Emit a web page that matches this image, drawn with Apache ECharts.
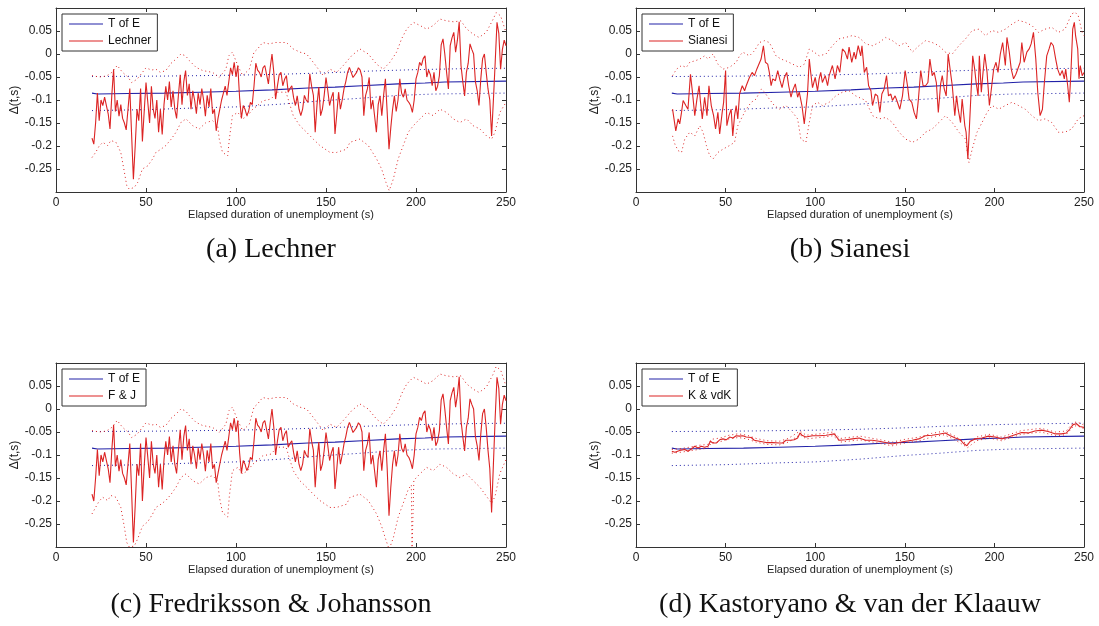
<!DOCTYPE html>
<html>
<head>
<meta charset="utf-8">
<title>Delta(t,s) by elapsed duration</title>
<script src="https://cdn.jsdelivr.net/npm/echarts@6/dist/echarts.min.js"></script>
<style>
  html, body { margin: 0; padding: 0; background: #fff; }
  #chart { width: 1099px; height: 626px; }
</style>
</head>
<body>
<div id="chart"></div>
<script>
// T of E estimate and its band (same in all four panels)
const tofe = [[20,-0.085],[23,-0.087],[40,-0.086],[60,-0.085],[80,-0.083],[100,-0.081],[120,-0.078],[140,-0.074],[155,-0.072],[170,-0.069],[190,-0.065],[205,-0.063],[216,-0.061],[217,-0.059],[250,-0.059]];
const tofeUp = [[20,-0.049],[60,-0.048],[100,-0.046],[125,-0.044],[150,-0.041],[175,-0.037],[200,-0.034],[225,-0.032],[250,-0.031]];
const tofeLow = [[20,-0.123],[50,-0.121],[80,-0.117],[100,-0.115],[125,-0.109],[150,-0.101],[170,-0.096],[190,-0.09],[210,-0.087],[250,-0.085]];

// (a) Lechner
const lechner = [[20,-0.183],[21,-0.196],[22,-0.15],[23,-0.085],[24,-0.145],[25,-0.1],[26,-0.112],[27,-0.094],[28,-0.112],[29,-0.13],[30,-0.163],[31,-0.09],[32,-0.033],[33,-0.125],[34,-0.1],[35,-0.135],[36,-0.11],[37,-0.14],[38,-0.15],[39,-0.165],[40,-0.12],[41,-0.075],[42,-0.175],[43,-0.272],[44,-0.2],[45,-0.12],[46,-0.145],[47,-0.075],[48,-0.19],[49,-0.125],[50,-0.062],[51,-0.105],[52,-0.15],[53,-0.07],[54,-0.12],[55,-0.14],[56,-0.1],[57,-0.17],[58,-0.12],[59,-0.175],[60,-0.11],[61,-0.07],[62,-0.1],[63,-0.06],[64,-0.115],[65,-0.08],[66,-0.12],[67,-0.14],[68,-0.09],[69,-0.045],[70,-0.11],[71,-0.06],[72,-0.036],[73,-0.09],[74,-0.065],[75,-0.12],[76,-0.08],[77,-0.1],[78,-0.13],[79,-0.085],[80,-0.11],[81,-0.075],[82,-0.1],[83,-0.135],[84,-0.09],[85,-0.115],[86,-0.075],[87,-0.13],[88,-0.12],[89,-0.167],[90,-0.14],[91,-0.12],[92,-0.1],[93,-0.085],[94,-0.07],[95,-0.09],[96,-0.06],[97,-0.03],[98,-0.045],[99,-0.018],[100,-0.05],[101,-0.025],[102,-0.095],[103,-0.14],[104,-0.112],[105,-0.12],[106,-0.134],[107,-0.125],[108,-0.105],[109,-0.11],[110,-0.07],[111,-0.02],[112,-0.035],[113,-0.04],[114,-0.05],[115,-0.03],[116,-0.025],[117,-0.045],[118,-0.065],[119,-0.03],[120,0.0],[121,-0.04],[122,-0.098],[123,-0.07],[124,-0.045],[125,-0.04],[126,-0.069],[127,-0.055],[128,-0.047],[129,-0.083],[130,-0.075],[131,-0.069],[132,-0.095],[133,-0.112],[134,-0.091],[135,-0.12],[136,-0.134],[137,-0.12],[138,-0.09],[139,-0.1],[140,-0.105],[141,-0.043],[142,-0.07],[143,-0.09],[144,-0.17],[145,-0.11],[146,-0.072],[147,-0.134],[148,-0.12],[149,-0.09],[150,-0.051],[151,-0.08],[152,-0.112],[153,-0.095],[154,-0.083],[155,-0.174],[156,-0.13],[157,-0.083],[158,-0.12],[159,-0.1],[160,-0.076],[161,-0.06],[162,-0.04],[163,-0.029],[164,-0.04],[165,-0.051],[166,-0.048],[167,-0.04],[168,-0.03],[169,-0.035],[170,-0.05],[171,-0.134],[172,-0.09],[173,-0.076],[174,-0.051],[175,-0.12],[176,-0.1],[177,-0.098],[178,-0.17],[179,-0.11],[180,-0.091],[181,-0.134],[182,-0.09],[183,-0.054],[184,-0.127],[185,-0.207],[186,-0.16],[187,-0.12],[188,-0.091],[189,-0.125],[190,-0.1],[191,-0.054],[192,-0.085],[193,-0.094],[194,-0.076],[195,-0.1],[196,-0.105],[197,-0.112],[198,-0.127],[199,-0.1],[200,-0.054],[201,-0.04],[202,-0.018],[203,-0.025],[204,-0.01],[205,-0.004],[206,-0.05],[207,-0.035],[208,-0.045],[209,-0.069],[210,-0.04],[211,-0.08],[212,-0.07],[213,-0.047],[214,0.02],[215,0.033],[216,0.0],[217,-0.04],[218,-0.076],[219,0.018],[220,0.035],[221,0.047],[222,0.004],[223,0.03],[224,0.07],[225,-0.025],[226,-0.06],[227,-0.091],[228,-0.04],[229,-0.02],[230,0.022],[231,0.01],[232,0.0],[233,-0.06],[234,-0.08],[235,-0.112],[236,-0.054],[237,-0.01],[238,0.0],[239,-0.04],[240,-0.076],[241,-0.1],[242,-0.178],[243,-0.1],[244,-0.018],[245,0.069],[246,0.045],[247,-0.033],[248,0.01],[249,0.03],[250,0.018]];
const lechnerUp = [[20,-0.047],[24,-0.05],[28,-0.048],[31,-0.04],[34,-0.025],[37,-0.04],[40,-0.05],[42,-0.062],[45,-0.055],[48,-0.04],[50,-0.03],[53,-0.035],[55.5,-0.033],[58,-0.04],[61,-0.036],[64,-0.02],[66.7,-0.011],[69.4,0.0],[72,-0.004],[74,-0.014],[77.8,-0.029],[81.5,-0.036],[87,-0.04],[90.7,-0.051],[94.4,-0.033],[96,-0.004],[98,0.004],[101,-0.025],[103.7,-0.047],[107.4,-0.033],[110,0.004],[112,0.011],[114.8,0.025],[118.5,0.022],[122,0.025],[125,0.025],[128,0.025],[131.8,0.011],[135.5,0.004],[139.2,0.0],[142.9,-0.018],[148.5,-0.047],[152.2,-0.033],[155.9,-0.04],[159.6,-0.025],[164.2,-0.004],[168.8,0.011],[173.5,0.0],[178.1,-0.022],[181.8,-0.033],[185.5,-0.018],[189.2,0.004],[192,0.033],[194.8,0.054],[198.5,0.069],[202.2,0.062],[205.9,0.054],[209.6,0.062],[213.3,0.076],[217,0.072],[221,0.07],[225,0.072],[228,0.055],[231.8,0.043],[235,0.036],[239,0.047],[242.9,0.076],[244.5,0.09],[247,0.083],[250,0.047]];
const lechnerLow = [[20,-0.225],[22,-0.214],[24,-0.2],[26,-0.192],[28.7,-0.199],[30.5,-0.188],[33.3,-0.192],[36,-0.214],[38,-0.257],[39.3,-0.286],[40.7,-0.294],[43.5,-0.29],[45.4,-0.279],[48,-0.25],[51,-0.243],[53.7,-0.228],[55.5,-0.214],[58.3,-0.207],[61,-0.199],[64,-0.185],[66.7,-0.17],[69.4,-0.149],[72.2,-0.141],[76,-0.156],[79.6,-0.163],[83.3,-0.149],[87,-0.145],[89.8,-0.156],[90.7,-0.185],[92.5,-0.214],[95.4,-0.221],[96.3,-0.185],[98,-0.134],[101,-0.127],[103.7,-0.141],[106.5,-0.134],[109.3,-0.12],[112,-0.112],[114.8,-0.102],[119.4,-0.098],[123,-0.083],[127.8,-0.083],[131.8,-0.134],[135.5,-0.156],[139.2,-0.17],[142.9,-0.185],[146.6,-0.199],[152.2,-0.214],[155.9,-0.214],[161.4,-0.207],[163.3,-0.192],[168.8,-0.185],[173.5,-0.199],[178.1,-0.228],[180.9,-0.25],[183.3,-0.279],[185.1,-0.297],[187.4,-0.272],[190.1,-0.228],[192.9,-0.199],[195.7,-0.17],[198.5,-0.156],[202.2,-0.141],[205.9,-0.127],[209.6,-0.134],[213.3,-0.12],[217,-0.127],[220.7,-0.141],[224.4,-0.149],[228.1,-0.141],[231.8,-0.156],[235.5,-0.163],[239.2,-0.178],[242,-0.185],[243.9,-0.17],[246.6,-0.127],[250,-0.105]];

// (b) Sianesi
const sianesi = [[20.4,-0.12],[21.1,-0.121],[22.2,-0.167],[23.5,-0.141],[24.4,-0.152],[25.4,-0.127],[26.3,-0.101],[27.8,-0.112],[29,-0.12],[30.4,-0.044],[31.5,-0.083],[32.8,-0.134],[34,-0.098],[35.2,-0.069],[36,-0.105],[37,-0.141],[38.3,-0.094],[39.6,-0.134],[40.7,-0.069],[42,-0.112],[43.3,-0.134],[44.4,-0.163],[45.7,-0.127],[46.7,-0.174],[48.1,-0.127],[48.9,-0.105],[50,-0.036],[50.7,-0.156],[51.9,-0.134],[53.1,-0.12],[54,-0.178],[55,-0.134],[55.9,-0.112],[56.8,-0.141],[57.8,-0.087],[59.3,-0.069],[60.6,-0.08],[61.5,-0.069],[62.4,-0.073],[63.3,-0.051],[64.8,-0.04],[66.1,-0.047],[67.4,-0.033],[68.5,-0.036],[69.8,-0.011],[71.1,0.018],[72.2,-0.018],[73.5,-0.022],[74.4,-0.04],[75.4,-0.069],[76.3,-0.054],[77.8,-0.058],[79.1,-0.036],[80.4,-0.058],[81.5,-0.073],[82.8,-0.051],[84.1,-0.04],[85.2,-0.069],[86.5,-0.094],[87.4,-0.08],[88.9,-0.065],[90.2,-0.094],[91.1,-0.083],[92.6,-0.112],[93.9,-0.152],[94.8,-0.12],[95.7,-0.087],[96.7,-0.011],[97.6,-0.044],[98.5,-0.073],[100,-0.051],[101.3,-0.08],[102.2,-0.054],[103.1,-0.04],[104,-0.062],[105.6,-0.047],[106.9,-0.069],[107.8,-0.047],[109.6,-0.025],[111.1,-0.054],[112.4,-0.025],[113.7,-0.04],[115.2,0.011],[116.7,0.004],[118,-0.011],[118.9,0.015],[120.4,-0.018],[121.7,0.004],[122.6,-0.011],[124,0.018],[125.4,-0.004],[126.1,0.018],[127.4,-0.04],[128.7,-0.029],[129.8,-0.069],[131.1,-0.08],[132,-0.112],[133.5,-0.087],[134.8,-0.091],[136.1,-0.127],[137.2,-0.087],[138.5,-0.076],[139.8,-0.047],[140.9,-0.091],[142.2,-0.087],[143.1,-0.101],[144.6,-0.091],[145.9,-0.105],[147.2,-0.12],[148.7,-0.091],[150.2,-0.036],[151.5,-0.069],[152.4,-0.098],[153.9,-0.105],[155.2,-0.127],[156.5,-0.141],[157.6,-0.098],[158.9,-0.036],[160.2,-0.069],[161.6,-0.069],[162.9,-0.062],[164,-0.011],[165.3,-0.047],[166.4,-0.04],[167.6,-0.062],[168.7,-0.127],[170,-0.065],[170.9,-0.047],[172,-0.076],[173.1,-0.091],[174.2,0.0],[175.5,-0.04],[176.5,-0.069],[177.9,-0.134],[178.9,-0.091],[179.8,-0.12],[181.1,-0.149],[182,-0.098],[183.5,-0.156],[184.2,-0.17],[185.2,-0.228],[186.1,-0.156],[186.8,-0.098],[187.9,-0.004],[189,-0.033],[189.8,-0.062],[190.9,-0.091],[191.6,-0.004],[192.7,-0.083],[193.5,-0.047],[194.6,0.0],[195.9,-0.04],[197.2,-0.112],[198.3,-0.076],[199.6,-0.033],[200.9,-0.018],[202,-0.04],[203.3,0.0],[204.6,0.025],[206.1,-0.025],[207,0.036],[208.3,0.004],[209.4,-0.033],[210.7,-0.054],[212,-0.044],[213.1,-0.047],[214.4,-0.018],[215.3,0.025],[216.6,-0.018],[218.1,0.004],[219.4,0.011],[220.5,0.022],[221.8,0.047],[223.1,-0.011],[224.2,-0.083],[225.5,-0.134],[226.8,-0.12],[227.9,-0.062],[229.2,-0.004],[230.5,0.011],[231.6,0.025],[232.9,0.018],[234.2,-0.011],[235.3,-0.033],[236.6,-0.047],[237.9,-0.036],[239,-0.054],[239.8,-0.033],[240.9,-0.069],[241.8,-0.105],[242.7,-0.04],[243.7,0.054],[244.6,0.069],[245.3,0.04],[246.5,0.011],[247.2,-0.054],[247.9,-0.025],[249,-0.047],[250,-0.04]];
const sianesiUp = [[20.4,-0.047],[22.6,-0.033],[25.4,-0.025],[28.1,-0.029],[30,-0.018],[32.8,-0.015],[35.6,-0.011],[38.3,-0.004],[40.2,-0.011],[43,0.0],[45.7,-0.022],[48.5,-0.033],[52.2,-0.029],[55.9,-0.018],[57.8,-0.004],[59.6,0.004],[63.3,-0.004],[66.1,0.007],[68.9,0.025],[71.7,0.029],[74.4,0.025],[76.3,0.011],[78.1,-0.004],[80.9,-0.011],[83.7,-0.015],[87.4,-0.022],[91.1,-0.029],[93.9,-0.022],[96.7,0.011],[99.4,0.004],[102.2,-0.004],[106,0.0],[109.6,0.018],[113.3,0.033],[117,0.036],[120.7,0.04],[124.4,0.036],[128.3,0.022],[132,0.018],[135.7,0.025],[139.4,0.036],[143.1,0.029],[146.8,0.018],[150.5,0.025],[154.2,0.004],[157.9,0.018],[161.6,0.029],[165.3,0.025],[169,0.018],[172.7,0.004],[176.5,0.0],[180.2,0.018],[183.9,0.033],[187.6,0.051],[191.3,0.054],[195,0.04],[198.7,0.051],[202.4,0.047],[206.1,0.054],[209.8,0.065],[213.5,0.073],[217.2,0.069],[220.9,0.062],[224.6,0.047],[228.3,0.054],[232,0.058],[235.7,0.047],[239.4,0.054],[243.1,0.087],[245,0.091],[246.8,0.083],[249,0.047],[250,0.04]];
const sianesiLow = [[20.4,-0.178],[21.7,-0.196],[23.5,-0.21],[25.4,-0.214],[27.2,-0.185],[30,-0.17],[32.8,-0.178],[35.6,-0.156],[37.4,-0.17],[39.3,-0.199],[41.1,-0.221],[43,-0.228],[45.7,-0.214],[48.5,-0.207],[52.2,-0.199],[55,-0.192],[56.8,-0.156],[58.7,-0.141],[61.5,-0.12],[64.3,-0.105],[67,-0.098],[69.8,-0.076],[71.7,-0.083],[74.4,-0.098],[77.2,-0.112],[80,-0.12],[83.7,-0.112],[87.4,-0.127],[90.2,-0.141],[92,-0.185],[94.8,-0.192],[96.7,-0.149],[98.5,-0.112],[101.3,-0.105],[104,-0.112],[107.8,-0.105],[111.5,-0.091],[115.2,-0.083],[118.9,-0.08],[122.6,-0.091],[128.1,-0.101],[132,-0.134],[135.7,-0.141],[139.4,-0.138],[143.1,-0.149],[146.8,-0.17],[150.5,-0.185],[154.2,-0.192],[157.9,-0.185],[161.6,-0.17],[165.3,-0.163],[169,-0.149],[172.7,-0.134],[176.5,-0.149],[180.2,-0.17],[183.9,-0.185],[184.9,-0.214],[185.8,-0.236],[187.6,-0.207],[190.3,-0.17],[193.1,-0.149],[195.9,-0.127],[198.7,-0.112],[202.4,-0.12],[206.1,-0.112],[209.8,-0.105],[213.5,-0.112],[217.2,-0.12],[220.9,-0.134],[224.6,-0.145],[228.3,-0.141],[232,-0.149],[235.7,-0.17],[239.4,-0.17],[243.1,-0.163],[246.8,-0.141],[250,-0.134]];

// (c) Fredriksson & Johansson - nearly the Lechner curve, a bit deeper in places
const fj = [[20,-0.185],[21,-0.2],[22,-0.15],[23,-0.088],[24,-0.145],[25,-0.1],[26,-0.115],[27,-0.094],[28,-0.112],[29,-0.13],[30,-0.16],[31,-0.09],[32,-0.035],[33,-0.125],[34,-0.1],[35,-0.135],[36,-0.11],[37,-0.14],[38,-0.15],[39,-0.165],[40,-0.12],[41,-0.075],[42,-0.18],[43,-0.29],[44,-0.21],[45,-0.12],[46,-0.145],[47,-0.075],[48,-0.2],[49,-0.125],[50,-0.062],[51,-0.105],[52,-0.15],[53,-0.07],[54,-0.12],[55,-0.14],[56,-0.1],[57,-0.17],[58,-0.12],[59,-0.175],[60,-0.11],[61,-0.07],[62,-0.1],[63,-0.06],[64,-0.115],[65,-0.08],[66,-0.12],[67,-0.14],[68,-0.09],[69,-0.045],[70,-0.11],[71,-0.06],[72,-0.036],[73,-0.09],[74,-0.065],[75,-0.12],[76,-0.08],[77,-0.1],[78,-0.13],[79,-0.085],[80,-0.11],[81,-0.075],[82,-0.1],[83,-0.135],[84,-0.09],[85,-0.115],[86,-0.075],[87,-0.13],[88,-0.12],[89,-0.16],[90,-0.14],[91,-0.12],[92,-0.1],[93,-0.085],[94,-0.07],[95,-0.09],[96,-0.06],[97,-0.03],[98,-0.045],[99,-0.02],[100,-0.05],[101,-0.025],[102,-0.095],[103,-0.14],[104,-0.112],[105,-0.12],[106,-0.134],[107,-0.125],[108,-0.105],[109,-0.11],[110,-0.07],[111,-0.02],[112,-0.035],[113,-0.04],[114,-0.05],[115,-0.03],[116,-0.025],[117,-0.045],[118,-0.065],[119,-0.03],[120,0.0],[121,-0.04],[122,-0.1],[123,-0.07],[124,-0.045],[125,-0.04],[126,-0.069],[127,-0.055],[128,-0.047],[129,-0.083],[130,-0.075],[131,-0.069],[132,-0.095],[133,-0.115],[134,-0.091],[135,-0.12],[136,-0.134],[137,-0.12],[138,-0.09],[139,-0.1],[140,-0.105],[141,-0.043],[142,-0.07],[143,-0.09],[144,-0.17],[145,-0.11],[146,-0.072],[147,-0.134],[148,-0.12],[149,-0.09],[150,-0.051],[151,-0.08],[152,-0.112],[153,-0.095],[154,-0.083],[155,-0.174],[156,-0.13],[157,-0.083],[158,-0.12],[159,-0.1],[160,-0.076],[161,-0.06],[162,-0.04],[163,-0.029],[164,-0.04],[165,-0.051],[166,-0.048],[167,-0.04],[168,-0.03],[169,-0.035],[170,-0.05],[171,-0.134],[172,-0.09],[173,-0.076],[174,-0.051],[175,-0.12],[176,-0.1],[177,-0.098],[178,-0.17],[179,-0.11],[180,-0.091],[181,-0.134],[182,-0.09],[183,-0.054],[184,-0.13],[185,-0.232],[186,-0.17],[187,-0.12],[188,-0.091],[189,-0.125],[190,-0.1],[191,-0.054],[192,-0.085],[193,-0.094],[194,-0.076],[195,-0.1],[196,-0.105],[197,-0.115],[198,-0.13],[199,-0.1],[200,-0.054],[201,-0.04],[202,-0.018],[203,-0.025],[204,-0.01],[205,-0.004],[206,-0.05],[207,-0.035],[208,-0.045],[209,-0.069],[210,-0.04],[211,-0.08],[212,-0.07],[213,-0.047],[214,0.02],[215,0.033],[216,0.0],[217,-0.04],[218,-0.076],[219,0.018],[220,0.035],[221,0.047],[222,0.004],[223,0.03],[224,0.07],[225,-0.025],[226,-0.06],[227,-0.091],[228,-0.04],[229,-0.02],[230,0.022],[231,0.01],[232,0.0],[233,-0.06],[234,-0.08],[235,-0.112],[236,-0.054],[237,-0.01],[238,0.0],[239,-0.04],[240,-0.09],[241,-0.13],[242,-0.225],[243,-0.12],[244,-0.018],[245,0.069],[246,0.045],[247,-0.033],[248,0.01],[249,0.03],[250,0.018]];
const fjUp = [[20,-0.047],[24,-0.05],[28,-0.048],[31,-0.04],[34,-0.025],[37,-0.04],[40,-0.05],[42,-0.062],[45,-0.055],[48,-0.04],[50,-0.03],[53,-0.035],[55.5,-0.033],[58,-0.04],[61,-0.036],[64,-0.02],[66.7,-0.011],[69.4,0.0],[72,-0.004],[74,-0.014],[77.8,-0.029],[81.5,-0.036],[87,-0.04],[90.7,-0.051],[94.4,-0.033],[96,-0.004],[98,0.004],[101,-0.025],[103.7,-0.047],[107.4,-0.033],[110,0.004],[112,0.011],[114.8,0.025],[118.5,0.022],[122,0.025],[125,0.025],[128,0.025],[131.8,0.011],[135.5,0.004],[139.2,0.0],[142.9,-0.018],[148.5,-0.047],[152.2,-0.033],[155.9,-0.04],[159.6,-0.025],[164.2,-0.004],[168.8,0.011],[173.5,0.0],[178.1,-0.022],[181.8,-0.033],[185.5,-0.018],[189.2,0.004],[192,0.033],[194.8,0.054],[198.5,0.069],[202.2,0.062],[205.9,0.054],[209.6,0.062],[213.3,0.076],[217,0.072],[221,0.07],[225,0.072],[228,0.055],[231.8,0.043],[235,0.036],[239,0.047],[242.9,0.076],[244.5,0.092],[247,0.085],[250,0.05]];
const fjLow = [[20,-0.228],[22,-0.214],[24,-0.2],[26,-0.192],[28.7,-0.199],[30.5,-0.188],[33.3,-0.192],[36,-0.214],[38,-0.257],[39.3,-0.29],[40.7,-0.3],[43.5,-0.298],[45.4,-0.282],[48,-0.255],[51,-0.245],[53.7,-0.228],[55.5,-0.214],[58.3,-0.207],[61,-0.199],[64,-0.185],[66.7,-0.17],[69.4,-0.149],[72.2,-0.141],[76,-0.156],[79.6,-0.163],[83.3,-0.149],[87,-0.145],[89.8,-0.156],[90.7,-0.19],[92.5,-0.225],[95.4,-0.235],[96.3,-0.19],[98,-0.134],[101,-0.127],[103.7,-0.141],[106.5,-0.134],[109.3,-0.12],[112,-0.112],[114.8,-0.102],[119.4,-0.098],[123,-0.083],[127.8,-0.083],[131.8,-0.134],[135.5,-0.156],[139.2,-0.17],[142.9,-0.185],[146.6,-0.199],[152.2,-0.214],[155.9,-0.214],[161.4,-0.207],[163.3,-0.192],[168.8,-0.185],[173.5,-0.199],[178.1,-0.228],[180.9,-0.255],[183.3,-0.285],[185.1,-0.305],[187.4,-0.28],[190.1,-0.235],[192.9,-0.205],[195.7,-0.175],[197.4,-0.165],[197.8,-0.31],[198.4,-0.31],[198.8,-0.155],[202.2,-0.141],[205.9,-0.127],[209.6,-0.134],[213.3,-0.12],[217,-0.127],[220.7,-0.141],[224.4,-0.149],[228.1,-0.141],[231.8,-0.156],[235.5,-0.17],[239.2,-0.19],[242,-0.205],[243.9,-0.19],[246.6,-0.14],[250,-0.11]];

// (d) Kastoryano & van der Klaauw
const kvdk = [[20,-0.092],[21.7,-0.094],[24.4,-0.09],[27.2,-0.088],[29,-0.092],[30.9,-0.087],[32.8,-0.081],[34.6,-0.085],[36.5,-0.081],[38.3,-0.083],[40.2,-0.081],[41.5,-0.07],[42.9,-0.074],[44.8,-0.074],[46.7,-0.067],[48.5,-0.065],[50.4,-0.067],[52.2,-0.061],[54.1,-0.063],[55.9,-0.058],[57.8,-0.059],[59.6,-0.058],[61.5,-0.061],[64.3,-0.062],[66,-0.068],[68.9,-0.07],[72.6,-0.073],[76.3,-0.073],[80,-0.074],[81.8,-0.074],[83.7,-0.068],[86.5,-0.068],[88.3,-0.067],[90.2,-0.063],[91.5,-0.052],[92.6,-0.057],[94.8,-0.061],[98.5,-0.058],[102.2,-0.058],[106,-0.057],[107.8,-0.056],[110.6,-0.054],[113.4,-0.068],[117.1,-0.067],[120.8,-0.065],[124.5,-0.063],[128.2,-0.068],[131.9,-0.068],[135.6,-0.07],[139.3,-0.073],[143,-0.076],[146.7,-0.073],[150.4,-0.07],[154.1,-0.068],[157.8,-0.065],[161.5,-0.058],[165.2,-0.057],[168.9,-0.055],[172.6,-0.052],[175.4,-0.058],[178.2,-0.063],[181,-0.067],[182.8,-0.075],[184.7,-0.08],[186.5,-0.07],[189.3,-0.065],[193,-0.063],[196.7,-0.059],[200.4,-0.061],[204.1,-0.065],[207.8,-0.061],[211.5,-0.056],[215.2,-0.051],[218.9,-0.052],[222.6,-0.048],[226.3,-0.046],[230,-0.049],[233.7,-0.054],[237.4,-0.054],[240.2,-0.052],[242,-0.044],[243.9,-0.034],[245.8,-0.032],[247.6,-0.038],[249,-0.039],[250,-0.04]];
const kvdkUp = [[20,-0.088],[25,-0.086],[30,-0.083],[35,-0.079],[40,-0.077],[42,-0.066],[47,-0.063],[52,-0.057],[57,-0.054],[62,-0.057],[67,-0.064],[73,-0.069],[80,-0.07],[85,-0.064],[91.5,-0.048],[95,-0.057],[105,-0.053],[110,-0.05],[114,-0.064],[125,-0.059],[135,-0.066],[143,-0.072],[150,-0.066],[158,-0.061],[165,-0.053],[172,-0.048],[178,-0.059],[183,-0.072],[185,-0.076],[190,-0.061],[197,-0.055],[204,-0.061],[215,-0.047],[226,-0.042],[234,-0.05],[240,-0.048],[244,-0.03],[246,-0.028],[250,-0.035]];
const kvdkLow = [[20,-0.096],[25,-0.094],[30,-0.091],[35,-0.088],[40,-0.085],[42,-0.074],[47,-0.071],[52,-0.065],[57,-0.062],[62,-0.065],[67,-0.072],[73,-0.077],[80,-0.078],[85,-0.072],[91.5,-0.056],[95,-0.065],[105,-0.061],[110,-0.058],[114,-0.072],[125,-0.067],[135,-0.074],[143,-0.08],[150,-0.074],[158,-0.069],[165,-0.061],[172,-0.056],[178,-0.067],[183,-0.079],[185,-0.084],[190,-0.069],[197,-0.063],[204,-0.069],[215,-0.055],[226,-0.05],[234,-0.058],[240,-0.056],[244,-0.038],[246,-0.036],[250,-0.043]];

const panels = [
  { name: 'Lechner', main: lechner, up: lechnerUp, low: lechnerLow, caption: '(a) Lechner', left: 56, top: 8, width: 450, capX: 271, capY: 250 },
  { name: 'Sianesi', main: sianesi, up: sianesiUp, low: sianesiLow, caption: '(b) Sianesi', left: 636, top: 8, width: 448, capX: 850, capY: 250 },
  { name: 'F & J', main: fj, up: fjUp, low: fjLow, caption: '(c) Fredriksson & Johansson', left: 56, top: 363, width: 450, capX: 271, capY: 605 },
  { name: 'K & vdK', main: kvdk, up: kvdkUp, low: kvdkLow, caption: '(d) Kastoryano & van der Klaauw', left: 636, top: 363, width: 448, capX: 850, capY: 605 }
];

const RED = '#dc2424';
const BLUE = '#2222a8';
const FONT = '"Liberation Sans", Arial, sans-serif';

var myChart = echarts.init(document.getElementById('chart'));

var grids = [], xAxes = [], yAxes = [], series = [], legends = [], captions = [];

function yLabel(v) {
  // matlab leaves the end values unlabelled
  if (v < -0.299 || v > 0.099) return '';
  return String(Math.round(v * 100) / 100);
}

function lineSeries(name, data, color, dotted, idx) {
  return {
    name: name,
    type: 'line',
    data: data,
    xAxisIndex: idx * 2,
    yAxisIndex: idx * 2,
    symbol: 'none',
    silent: true,
    clip: true,
    lineStyle: { color: color, width: dotted ? 1 : 1.1, type: dotted ? [1, 3] : 'solid' },
    itemStyle: { color: color }
  };
}

panels.forEach(function (p, i) {
  grids.push({ left: p.left, top: p.top, width: p.width, height: 184 });

  var axisBase = {
    gridIndex: i,
    type: 'value',
    axisLine: { show: true, onZero: false, lineStyle: { color: '#333', width: 1 } },
    axisTick: { show: true, inside: true, length: 4, lineStyle: { color: '#333' } },
    splitLine: { show: false }
  };
  // bottom + top x axis (top one only for the box and ticks)
  xAxes.push(Object.assign({}, axisBase, {
    position: 'bottom', min: 0, max: 250, interval: 50,
    axisLabel: { color: '#222', fontSize: 12, fontFamily: FONT, margin: 5 },
    name: 'Elapsed duration of unemployment (s)',
    nameLocation: 'middle', nameGap: 17,
    nameTextStyle: { color: '#222', fontSize: 11, fontFamily: FONT }
  }));
  xAxes.push(Object.assign({}, axisBase, {
    position: 'top', min: 0, max: 250, interval: 50, axisLabel: { show: false }
  }));
  yAxes.push(Object.assign({}, axisBase, {
    position: 'left', min: -0.3, max: 0.1, interval: 0.05,
    axisLabel: { color: '#222', fontSize: 12, fontFamily: FONT, margin: 4, formatter: yLabel },
    name: 'Δ(t,s)', nameLocation: 'middle', nameGap: 28,
    nameTextStyle: { color: '#222', fontSize: 12, fontFamily: FONT }
  }));
  yAxes.push(Object.assign({}, axisBase, {
    position: 'right', min: -0.3, max: 0.1, interval: 0.05, axisLabel: { show: false }
  }));

  series.push(lineSeries('T of E upper', tofeUp, BLUE, true, i));
  series.push(lineSeries('T of E lower', tofeLow, BLUE, true, i));
  series.push(lineSeries('T of E', tofe, BLUE, false, i));
  series.push(lineSeries(p.name + ' upper', p.up, RED, true, i));
  series.push(lineSeries(p.name + ' lower', p.low, RED, true, i));
  series.push(lineSeries(p.name, p.main, RED, false, i));

  legends.push({
    orient: 'vertical',
    left: p.left + 6,
    top: p.top + 6,
    data: ['T of E', p.name],
    // plain line sample, no marker
    icon: 'path://M0,0 H34 V1.2 H0 Z',
    itemWidth: 34,
    itemHeight: 11,
    itemGap: 5,
    padding: [4, 6, 4, 7],
    borderColor: '#333',
    borderWidth: 1,
    borderRadius: 0,
    backgroundColor: '#fff',
    selectedMode: false,
    textStyle: { color: '#111', fontSize: 12, fontFamily: FONT }
  });

  captions.push({
    type: 'text',
    x: p.capX,
    y: p.capY,
    style: {
      text: p.caption,
      font: '28px "Liberation Serif", "DejaVu Serif", serif',
      fill: '#111',
      textAlign: 'center',
      textVerticalAlign: 'middle',
      align: 'center',
      verticalAlign: 'middle'
    }
  });
});

var option = {
  backgroundColor: '#fff',
  animation: false,
  grid: grids,
  xAxis: xAxes,
  yAxis: yAxes,
  legend: legends,
  series: series,
  graphic: captions
};

myChart.setOption(option);
</script>
</body>
</html>
